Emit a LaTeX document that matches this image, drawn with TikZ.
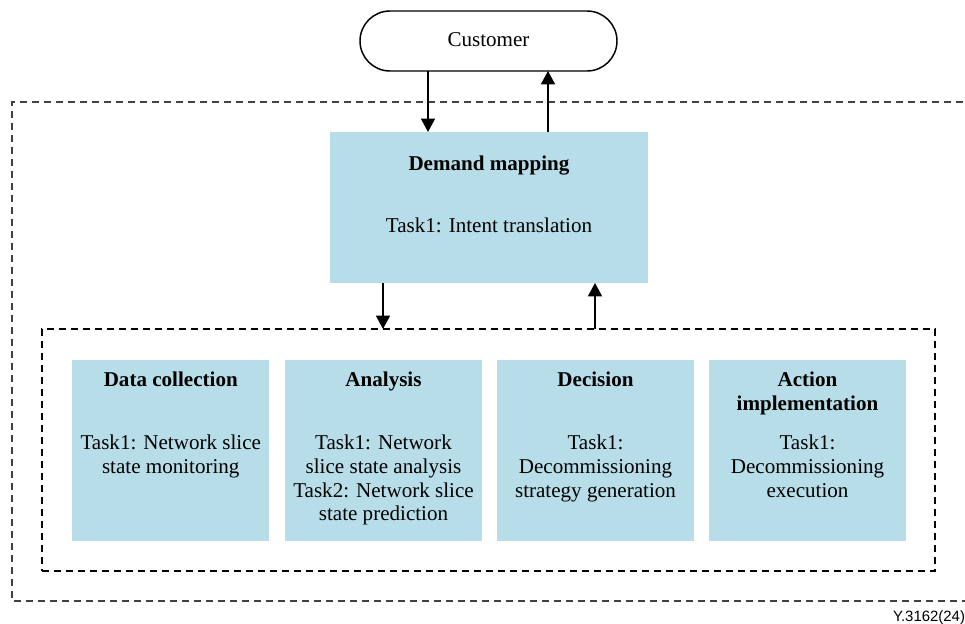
\documentclass[tikz,border=0pt]{standalone}
\usepackage{fontspec}
\setmainfont{Liberation Serif}
\newfontfamily\figsans{Liberation Sans}
\usetikzlibrary{arrows.meta}
\definecolor{boxblue}{HTML}{B7DDE8}
\definecolor{outergray}{HTML}{404040}

\begin{document}
\begin{tikzpicture}[x=0.75pt,y=-0.75pt,
  every node/.style={inner sep=0pt, outer sep=0pt},
  txt/.style={font=\fontsize{15.8}{18}\selectfont, text height=0.9em, text depth=0pt, anchor=center},
  ttl/.style={txt, font=\fontsize{15.8}{18}\selectfont\bfseries},
  funcbox/.style={rectangle, fill=boxblue, minimum width=147.75pt, minimum height=135.75pt},
  dashbox/.style={line width=0.9pt, dash pattern=on 5.5pt off 3.5pt},
  arr/.style={line width=1.1pt, -{Triangle[width=10.5pt,length=10pt]}}
]
\useasboundingbox (0,0) rectangle (965,624);

% outer frame (runs past the right edge)
\draw[dashbox, draw=outergray] (975,102) -- (12,102) -- (12,601) -- (975,601);

% customer terminal
\node[draw, line width=1.1pt, rounded corners=22.5pt, minimum width=192.75pt,
      minimum height=45pt, text height=0.9em, text depth=0pt,
      font=\fontsize{15.8}{18}\selectfont] (cust) at (488.5,41) {Customer};

% demand mapping
\node[rectangle, fill=boxblue, minimum width=238.5pt, minimum height=113.25pt] (dem) at (489,207.5) {};
\node[ttl] (demt) at (489,165) {Demand mapping};
\node[txt] (dem1) at (489,227) {Task1: Intent translation};

% inner frame
\node[rectangle, draw, dashbox, minimum width=669.75pt, minimum height=181.5pt] (inner) at (488.5,450) {};

% function boxes
\node[funcbox] (dc) at (170.75,450.5) {};
\node[funcbox] (an) at (383.5,450.5) {};
\node[funcbox] (de) at (595.5,450.5) {};
\node[funcbox] (ac) at (807.5,450.5) {};

\node[ttl] (dct) at (170.75,381) {Data collection};
\node[txt] (dc1) at (170.75,443) {Task1: Network slice};
\node[txt] (dc2) at (170.75,467) {state monitoring};

\node[ttl] (ant) at (383.5,381) {Analysis};
\node[txt] (an1) at (383.5,443) {Task1: Network};
\node[txt] (an2) at (383.5,467) {slice state analysis};
\node[txt] (an3) at (383.5,491) {Task2: Network slice};
\node[txt] (an4) at (383.5,514) {state prediction};

\node[ttl] (det) at (595.5,381) {Decision};
\node[txt] (de1) at (595.5,443) {Task1:};
\node[txt] (de2) at (595.5,467) {Decommissioning};
\node[txt] (de3) at (595.5,491) {strategy generation};

\node[ttl] (act1) at (807.5,381) {Action};
\node[ttl] (act2) at (807.5,404) {implementation};
\node[txt] (ac1) at (807.5,443) {Task1:};
\node[txt] (ac2) at (807.5,467) {Decommissioning};
\node[txt] (ac3) at (807.5,491) {execution};

% connector columns
\coordinate (xa) at (428,0);
\coordinate (xb) at (548,0);
\coordinate (xc) at (383,0);
\coordinate (xd) at (595,0);

\draw[arr] (cust.south -| xa) -- (dem.north -| xa);
\draw[arr] (dem.north -| xb) -- (cust.south -| xb);
\draw[arr] (dem.south -| xc) -- (inner.north -| xc);
\draw[arr] (inner.north -| xd) -- (dem.south -| xd);

% figure reference
\node[anchor=base east, font=\figsans\fontsize{11.2}{13}\selectfont] (ref) at (965,621) {Y.3162(24)};
\end{tikzpicture}
\end{document}
